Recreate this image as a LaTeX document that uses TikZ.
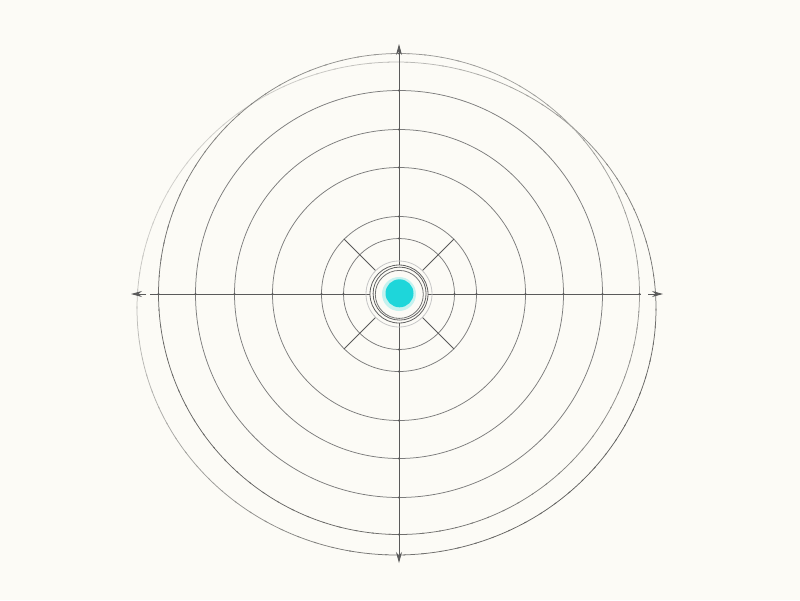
\documentclass[tikz,border=0pt]{standalone}
\usetikzlibrary{arrows.meta}
\definecolor{bgc}{HTML}{FCFBF6}
\definecolor{ringc}{HTML}{7C7C7C}
\definecolor{axisc}{HTML}{5A5A5A}
\definecolor{dotc}{HTML}{1ED6DA}
\tikzset{
  ring/.style={draw=ringc, line width=0.75pt},
  axisline/.style={draw=axisc, line width=0.8pt},
  tip/.style={-{Stealth[length=11pt,width=6pt]}, draw=axisc, fill=axisc, line width=0.8pt},
  spoke/.style={draw=axisc, line width=0.9pt}
}
\begin{document}
\begin{tikzpicture}[x=1pt,y=-1pt]
\fill[bgc] (0,0) rectangle (800,600);
\useasboundingbox (0,0) rectangle (800,600);
\coordinate (c) at (399,294);
% outer offset ring, fading toward the upper left
\foreach \a in {0,4,...,356}{
  \pgfmathsetmacro{\shade}{int(40+22*cos(\a-40))}
  \draw[line width=0.75pt, draw=black!\shade!bgc] (396.5,308.5) ++(\a:259.5 and 246.5) arc[start angle=\a, end angle=\a+4.5, x radius=259.5, y radius=246.5];
}
% main rings
\foreach \r in {55.5,77.5,126.5,164.5,203.5}{
  \draw[ring] (c) circle[radius=\r];
}
\foreach \a in {0,4,...,356}{
  \pgfmathsetmacro{\shade}{int(48-12*cos(\a+45))}
  \draw[line width=0.75pt, draw=black!\shade!bgc] (c) ++(\a:240.5) arc[start angle=\a, end angle=\a+4.5, radius=240.5];
}
% axes
\coordinate (l) at (150,294);
\coordinate (r) at (641,294);
\coordinate (t) at (399,57);
\coordinate (b) at (399,550);
\draw[axisline] (l) -- (r);
\draw[axisline] (t) -- (b);
\coordinate (la) at (146,294); \coordinate (lt) at (131,294);
\coordinate (ra) at (648,294); \coordinate (rt) at (663,294);
\coordinate (ta) at (399,58); \coordinate (tt) at (399,44);
\coordinate (ba) at (399,548); \coordinate (bt) at (399,563);
\draw[tip] (la) -- (lt);
\draw[tip] (ra) -- (rt);
\draw[tip] (ta) -- (tt);
\draw[tip] (ba) -- (bt);
% dots at crossings
\foreach \r in {55.5,77.5,126.5,164.5,203.5,240.5}{
  \fill[axisc] (399+\r,294) circle[radius=1.1];
  \fill[axisc] (399-\r,294) circle[radius=1.1];
  \fill[axisc] (399,294+\r) circle[radius=1.1];
  \fill[axisc] (399,294-\r) circle[radius=1.1];
}
% diagonal spokes
\foreach \a in {45,135,225,315}{
  \draw[spoke] (c) ++(\a:33) -- ++(\a:45);
}
% inner hub
\fill[bgc] (c) circle[radius=29];
\draw[draw=black!22, line width=0.8pt] (c) circle[radius=33];
\draw[draw=black!62, line width=0.8pt] (c) circle[radius=29];
\draw[draw=black!62, line width=0.8pt] (399.6,293.6) circle[radius=26.5];
\draw[draw=black!55, line width=0.8pt] (399.3,294.4) circle[radius=24];
\fill[dotc!25!bgc] (c) circle[radius=17];
\node[circle, fill=dotc, minimum size=28pt, inner sep=0pt] (dot) at (399.5,293.3) {};
\end{tikzpicture}
\end{document}
